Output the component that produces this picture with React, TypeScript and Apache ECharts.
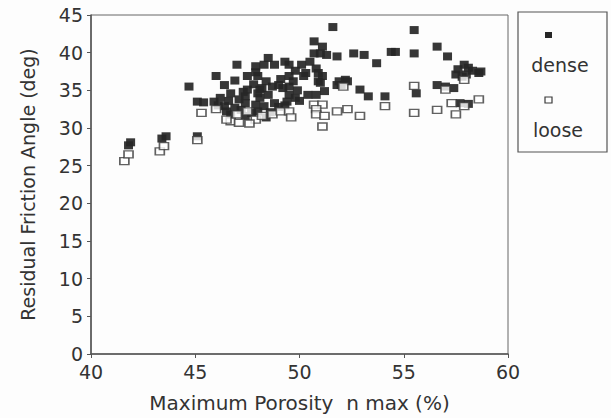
import React, { useEffect, useRef } from "react";
import * as echarts from "echarts";

const denseX = [41.8, 41.9, 43.4, 43.6, 45.1, 44.7, 45.1, 45.4, 45.9, 46.0, 46.4, 47.0, 47.4, 47.9, 47.5, 48.1, 51.6, 50.7, 51.1, 51.8, 51.3, 50.7, 50.5, 50.1, 50.8, 50.3, 51.1, 48.5, 48.8, 48.3, 49.3, 49.5, 49.1, 49.5, 48.7, 49.2, 48.2, 49.5, 49.4, 48.1, 48.5, 48.8, 48.0, 50.4, 50.8, 51.2, 50.9, 51.8, 52.0, 55.5, 52.6, 53.1, 53.7, 54.4, 54.6, 55.5, 52.3, 52.9, 53.3, 54.1, 55.6, 56.6, 57.1, 57.9, 57.6, 58.1, 58.6, 57.5, 58.0, 56.6, 57.0, 57.4, 57.7, 58.1, 46.7, 47.1, 47.5, 48.0, 49.0, 49.5, 49.8, 46.4, 46.9, 47.4, 47.9, 48.3, 49.0, 46.7, 47.4, 49.8, 51.0, 48.0, 50.2, 50.9, 51.0, 51.9, 52.2, 46.2, 46.5, 47.2, 48.4, 58.3, 57.8, 58.7, 47.9, 49.9, 46.9, 47.7, 48.6, 49.3, 46.1, 47.3, 48.4, 49.7, 50.0, 47.8, 46.6];
const denseY = [27.7, 28.1, 28.6, 28.9, 28.9, 35.5, 33.5, 33.4, 33.5, 36.9, 35.7, 38.4, 34.2, 38.2, 36.9, 35.1, 43.4, 41.5, 40.8, 39.5, 39.7, 39.9, 38.8, 38.4, 37.9, 37.3, 36.9, 39.3, 38.4, 38.4, 38.8, 38.4, 36.5, 36.9, 35.5, 35.3, 35.3, 34.4, 33.5, 34.0, 34.4, 33.3, 32.2, 34.4, 34.4, 34.9, 36.2, 35.7, 35.7, 43.0, 39.9, 39.7, 38.6, 40.1, 40.1, 39.9, 36.2, 35.1, 34.2, 34.2, 34.6, 40.8, 39.5, 38.4, 37.8, 38.0, 37.3, 37.1, 37.1, 35.7, 35.5, 35.3, 33.3, 33.2, 34.6, 33.8, 35.1, 34.6, 35.7, 35.5, 34.0, 32.9, 32.7, 33.3, 33.1, 32.9, 32.8, 31.8, 31.6, 37.6, 39.9, 36.9, 36.9, 37.3, 36.0, 36.2, 36.4, 34.0, 32.2, 32.4, 31.4, 37.6, 36.8, 37.5, 37.4, 35.0, 36.3, 32.0, 32.1, 33.0, 33.0, 34.8, 36.2, 36.2, 33.6, 35.8, 33.6];

const looseX = [41.6, 41.8, 43.3, 43.5, 45.1, 45.3, 46.0, 46.7, 47.1, 47.0, 47.9, 47.5, 48.7, 49.1, 49.5, 48.2, 46.5, 52.1, 50.7, 51.1, 50.8, 50.8, 51.2, 51.8, 52.3, 51.1, 52.9, 54.1, 55.5, 55.5, 56.6, 57.5, 57.3, 57.9, 58.6, 57.9, 57.0, 49.6, 47.6];
const looseY = [25.6, 26.5, 26.9, 27.6, 28.4, 32.0, 32.5, 30.9, 30.7, 31.8, 31.1, 32.2, 31.8, 32.2, 32.2, 31.6, 31.1, 35.5, 33.1, 33.1, 32.5, 31.8, 31.6, 32.2, 32.5, 30.2, 31.6, 32.9, 35.6, 32.0, 32.4, 31.8, 33.3, 32.9, 33.8, 36.4, 35.1, 31.4, 30.6];

const seriesNames = ["dense", "loose"];
const xTicks = [40, 45, 50, 55, 60];
const yTicks = [0, 5, 10, 15, 20, 25, 30, 35, 40, 45];

const FONT = "DejaVu Sans";
const INK = "#333";

export default function App() {
  const ref = useRef<HTMLDivElement>(null);
  useEffect(() => {
    if (!ref.current) return;
    const chart = echarts.init(ref.current, null, { renderer: "svg" });
    const dense = denseX.map((x, i) => [x, denseY[i]]);
    const loose = looseX.map((x, i) => [x, looseY[i]]);
    chart.setOption({
      animation: false,
      backgroundColor: "#fdfdfd",
      grid: {
        left: 91,
        right: 103,
        top: 15,
        bottom: 62,
        show: true,
        borderColor: "#666",
        borderWidth: 1,
      },
      xAxis: {
        type: "value",
        min: xTicks[0],
        max: xTicks[xTicks.length - 1],
        interval: 5,
        name: "Maximum Porosity  n max (%)",
        nameLocation: "middle",
        nameGap: 39,
        nameTextStyle: { fontFamily: FONT, fontSize: 20, color: INK },
        axisLine: { lineStyle: { color: "#555", width: 1.5 } },
        axisTick: { show: true, length: 4, lineStyle: { color: "#555" } },
        axisLabel: { fontFamily: FONT, fontSize: 19, color: INK, margin: 8 },
        splitLine: { show: false },
      },
      yAxis: {
        type: "value",
        min: yTicks[0],
        max: yTicks[yTicks.length - 1],
        interval: 5,
        name: "Residual Friction Angle (deg)",
        nameLocation: "middle",
        nameGap: 54,
        nameTextStyle: { fontFamily: FONT, fontSize: 19, color: INK },
        axisLine: { lineStyle: { color: "#555", width: 1.5 } },
        axisTick: { show: true, length: 4, lineStyle: { color: "#555" } },
        axisLabel: { fontFamily: FONT, fontSize: 19, color: INK, margin: 8 },
        splitLine: { show: false },
      },
      series: [
        {
          name: seriesNames[0],
          type: "scatter",
          data: dense,
          symbol: "rect",
          symbolSize: [9, 8],
          itemStyle: { color: "#262626", opacity: 0.92 },
        },
        {
          name: seriesNames[1],
          type: "scatter",
          data: loose,
          symbol: "rect",
          symbolSize: [9, 7],
          itemStyle: { color: "#fff", borderColor: "#3a3a3a", borderWidth: 1.5 },
        },
      ],
      graphic: [
        {
          type: "rect",
          shape: { x: 518, y: 12, width: 89, height: 140 },
          style: { fill: "none", stroke: "#555", lineWidth: 1.2 },
        },
        {
          type: "rect",
          shape: { x: 545, y: 32, width: 7, height: 6 },
          style: { fill: "#262626" },
        },
        {
          type: "text",
          x: 560,
          y: 65,
          style: {
            text: seriesNames[0],
            fontFamily: FONT,
            fontSize: 19,
            fill: INK,
            align: "center",
            verticalAlign: "middle",
          },
        },
        {
          type: "rect",
          shape: { x: 545, y: 97, width: 7, height: 6 },
          style: { fill: "#fff", stroke: "#3a3a3a", lineWidth: 1.2 },
        },
        {
          type: "text",
          x: 558,
          y: 130,
          style: {
            text: seriesNames[1],
            fontFamily: FONT,
            fontSize: 19,
            fill: INK,
            align: "center",
            verticalAlign: "middle",
          },
        },
      ],
    });
    return () => chart.dispose();
  }, []);
  return <div ref={ref} style={{ width: 611, height: 418, position: "absolute", left: 0, top: 0 }} />;
}
